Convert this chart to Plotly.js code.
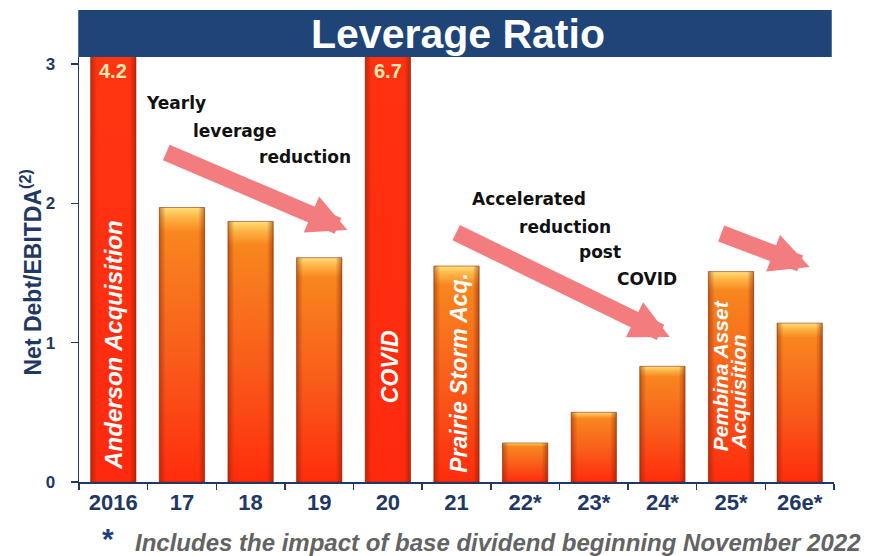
<!DOCTYPE html>
<html>
<head>
<meta charset="utf-8">
<script src="https://cdn.plot.ly/plotly-3.0.1.min.js"></script>
<style>
  html, body { margin: 0; padding: 0; background: #ffffff; }
  #chart { width: 873px; height: 556px; }
</style>
</head>
<body>
<div id="chart"></div>
<script>
// ---- data ----
const categories = ['2016', '17', '18', '19', '20', '21', '22*', '23*', '24*', '25*', '26e*'];
const leverage = [4.2, 1.97, 1.87, 1.61, 6.7, 1.55, 0.28, 0.50, 0.83, 1.51, 1.14];
const yTicks = [0, 1, 2, 3];
const chartTitle = 'Leverage Ratio';
const yTitle = 'Net Debt/EBITDA<sup>(2)</sup>';
const footnote = 'Includes the impact of base dividend beginning November 2022';

const NAVY = '#1f3864';
const Y_MAX = 3.05;
const ARROW = '#f27c7e';

const data = [
  {
    type: 'bar', x: categories, y: leverage,
    marker: { color: '#f7701c', line: { color: 'rgba(140,30,5,0.55)', width: 1 } },
    hoverinfo: 'skip', showlegend: false
  },
  {
    type: 'bar', x: categories, y: leverage,
    marker: { color: 'rgba(0,0,0,0)', line: { width: 0 } },
    hoverinfo: 'skip', showlegend: false
  }
];

function txt(text, px, py, size) {
  return { xref: 'paper', yref: 'paper', x: px, y: py, text: '<b>' + text + '</b>', showarrow: false,
    xanchor: 'center', yanchor: 'middle',
    font: { family: 'DejaVu Sans, Verdana, sans-serif', size: size || 17, color: '#111111' } };
}
function inBar(text, idx, yv, shift, size) {
  return { xref: 'x', yref: 'y', x: idx, y: yv, xshift: shift, text: '<b><i>' + text + '</i></b>',
    showarrow: false, textangle: -90, xanchor: 'center', yanchor: 'middle',
    font: { family: 'Liberation Sans, Arial, sans-serif', size: size, color: '#ffffff' } };
}
function arrow(x0, y0, x1, y1) {
  return { xref: 'x', yref: 'y', axref: 'x', ayref: 'y', x: x1, y: y1, ax: x0, ay: y0,
    text: '', showarrow: true, arrowhead: 2, arrowsize: 0.46, arrowwidth: 17, arrowcolor: ARROW, standoff: 0 };
}
function topVal(i) {
  return { xref: 'x', yref: 'y', x: i, y: 2.947, text: '<b>' + leverage[i] + '</b>', showarrow: false,
    xanchor: 'center', yanchor: 'middle',
    font: { family: 'Liberation Sans, Arial, sans-serif', size: 20, color: '#ffe9b0' } };
}

const annotations = [
  // title
  { xref: 'paper', yref: 'paper', x: 0.502, y: 1.054, text: '<b>' + chartTitle + '</b>', showarrow: false,
    xanchor: 'center', yanchor: 'middle',
    font: { family: 'Liberation Sans, Arial, sans-serif', size: 41, color: '#ffffff' } },
  // y axis title
  { xref: 'paper', yref: 'paper', x: -0.063, y: 0.494, text: '<b>' + yTitle + '</b>', showarrow: false,
    textangle: -90, xanchor: 'center', yanchor: 'middle',
    font: { family: 'Liberation Sans, Arial, sans-serif', size: 23, color: NAVY } },
  // values of clipped bars
  topVal(0), topVal(4),
  // texts inside bars
  inBar('Anderson Acquisition', 0, 0.98, 0, 24),
  inBar('COVID', 4, 0.83, 2, 23),
  inBar('Prairie Storm Acq.', 5, 0.78, 3, 23),
  inBar('Pembina Asset', 9, 0.76, -11, 21),
  inBar('Acquisition', 9, 0.64, 8, 21),
  // commentary
  txt('Yearly', 0.1285, 0.892),
  txt('leverage', 0.2066, 0.826),
  txt('reduction', 0.2993, 0.765),
  txt('Accelerated', 0.596, 0.666),
  txt('reduction', 0.6437, 0.600),
  txt('post', 0.690, 0.541),
  txt('COVID', 0.7523, 0.4776),
  // arrows
  arrow(0.75, 2.369, 3.41, 1.809),
  arrow(4.974, 1.795, 8.106, 1.041),
  arrow(8.835, 1.787, 10.146, 1.543),
  // footnote
  { xref: 'paper', yref: 'paper', x: 0.039, y: -0.134, text: '<b>*</b>', showarrow: false,
    xanchor: 'center', yanchor: 'middle',
    font: { family: 'Liberation Sans, Arial, sans-serif', size: 30, color: '#1f3f7f' } },
  { xref: 'paper', yref: 'paper', x: 0.0715, y: -0.142, text: '<b><i>' + footnote + '</i></b>', showarrow: false,
    xanchor: 'left', yanchor: 'middle',
    font: { family: 'Liberation Sans, Arial, sans-serif', size: 24, color: '#636363' } }
];

const layout = {
  width: 873, height: 556,
  margin: { l: 79, r: 39, t: 57, b: 74 },
  paper_bgcolor: '#ffffff', plot_bgcolor: '#ffffff',
  barmode: 'overlay', bargap: 0.34,
  showlegend: false,
  xaxis: {
    type: 'category', range: [-0.5, categories.length - 0.5], autorange: false,
    showline: true, linecolor: NAVY, linewidth: 1.5,
    ticks: 'outside', tickson: 'boundaries', ticklen: 6, tickcolor: NAVY, tickwidth: 1.5,
    showgrid: false, zeroline: false,
    tickfont: { family: 'Liberation Sans, Arial, sans-serif', size: 22, color: NAVY, weight: 'bold' }
  },
  yaxis: {
    range: [0, Y_MAX], autorange: false, tickvals: yTicks, ticktext: yTicks.map(String),
    showline: true, linecolor: NAVY, linewidth: 1.5,
    ticks: 'outside', ticklen: 7, tickcolor: NAVY, tickwidth: 1.5, ticklabelstandoff: 12,
    showgrid: false, zeroline: false,
    tickfont: { family: 'Liberation Sans, Arial, sans-serif', size: 17, color: NAVY, weight: 'bold' }
  },
  shapes: [
    { type: 'rect', xref: 'paper', yref: 'paper', x0: -0.001, x1: 0.997, y0: 1.0, y1: 1.1106,
      fillcolor: '#1f4478', line: { width: 0 }, layer: 'below' }
  ],
  annotations: annotations
};

const gd = document.getElementById('chart');
Plotly.newPlot(gd, data, layout, { staticPlot: true, displayModeBar: false }).then(function () {
  const NS = 'http://www.w3.org/2000/svg';
  const svg = gd.querySelector('svg.main-svg');
  let defs = svg.querySelector('defs');
  if (!defs) { defs = document.createElementNS(NS, 'defs'); svg.insertBefore(defs, svg.firstChild); }
  function makeGrad(id, stops, horizontal) {
    const g = document.createElementNS(NS, 'linearGradient');
    g.setAttribute('id', id);
    g.setAttribute('x1', '0'); g.setAttribute('y1', '0');
    g.setAttribute('x2', horizontal ? '1' : '0'); g.setAttribute('y2', horizontal ? '0' : '1');
    stops.forEach(function (s) {
      const st = document.createElementNS(NS, 'stop');
      st.setAttribute('offset', s[0]);
      st.setAttribute('stop-color', s[1]);
      st.setAttribute('stop-opacity', s[2] === undefined ? 1 : s[2]);
      g.appendChild(st);
    });
    defs.appendChild(g);
  }
  makeGrad('gOrange', [[0, '#ffe07a'], [0.035, '#ffb547'], [0.09, '#f8861f'], [0.55, '#f95c1a'], [1, '#ff2c0c']]);
  makeGrad('gRed', [[0, '#ff3a14'], [1, '#ff2a0e']]);
  makeGrad('gSide', [[0, '#7a1a00', 0.45], [0.14, '#7a1a00', 0], [0.86, '#7a1a00', 0], [1, '#7a1a00', 0.5]], true);
  const traces = gd.querySelectorAll('.barlayer .trace');
  if (traces[0]) {
    traces[0].querySelectorAll('.point path').forEach(function (p, i) {
      p.style.fill = leverage[i] > Y_MAX ? 'url(#gRed)' : 'url(#gOrange)';
    });
  }
  if (traces[1]) {
    traces[1].querySelectorAll('.point path').forEach(function (p) {
      p.style.fill = 'url(#gSide)';
      p.style.fillOpacity = 1;
    });
  }
});
</script>
</body>
</html>
